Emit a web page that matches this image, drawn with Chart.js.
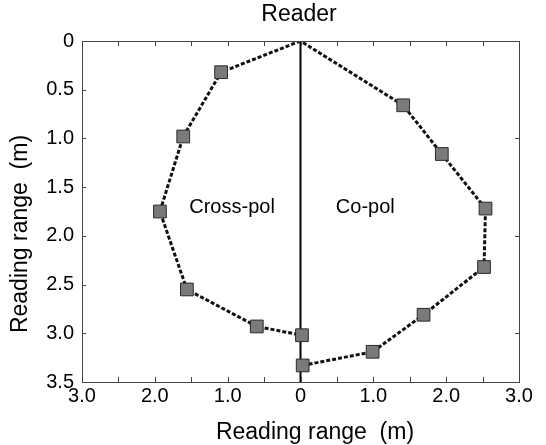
<!DOCTYPE html>
<html>
<head>
<meta charset="utf-8">
<title>Reading range</title>
<script src="https://cdn.jsdelivr.net/npm/chart.js@4.4.1/dist/chart.umd.min.js"></script>
<style>
    html, body { margin: 0; padding: 0; background: #fff; }
    #wrap { width: 546px; height: 445px; }
</style>
</head>
<body>
<div id="wrap"><canvas id="chart" width="546" height="445"></canvas></div>
<script>
// Measured read range (m), left half = cross-pol, right half = co-pol
const crossX = [0, -1.09, -1.61, -1.93, -1.56, -0.60, 0.02];
const crossY = [0, 0.32, 0.98, 1.75, 2.55, 2.93, 3.02];
const coX = [0.03, 0.99, 1.69, 2.52, 2.54, 1.94, 1.41, 0];
const coY = [3.33, 3.19, 2.81, 2.32, 1.72, 1.16, 0.66, 0];

// Reader axis (vertical line through x = 0)
const axisLineX = [0, 0];
const axisLineY = [0, 3.5];

// Tick labels
const xTickValues = [-3, -2, -1, 0, 1, 2, 3];
const xTickLabels = ['3.0', '2.0', '1.0', '0', '1.0', '2.0', '3.0'];
const yTickValues = [0, 0.5, 1, 1.5, 2, 2.5, 3, 3.5];
const yTickLabels = ['0', '0.5', '1.0', '1.5', '2.0', '2.5', '3.0', '3.5'];

// Region labels
const regionNames = ['Cross-pol', 'Co-pol'];
const regionX = [-0.94, 0.89];
const regionY = [1.71, 1.71];

const FONT = '"Liberation Sans", Arial, sans-serif';
const FRAME = '#444';

const toPoints = (xs, ys) => xs.map((x, i) => ({ x: x, y: ys[i] }));

// hide the marker on the shared origin point (reader position)
const markerRadius = (ctx) => {
    const p = ctx.raw;
    return p && p.x === 0 && p.y === 0 ? 0 : 9;
};

// frame, inward ticks, free text
const decor = {
    id: 'decor',
    afterDraw(chart) {
        const { ctx, chartArea: a, scales } = chart;
        const sx = scales.x, sy = scales.y;
        ctx.save();
        ctx.strokeStyle = FRAME;
        ctx.lineWidth = 1;
        ctx.strokeRect(Math.round(a.left) + 0.5, Math.round(a.top) + 0.5,
            Math.round(a.right - a.left), Math.round(a.bottom - a.top));

        ctx.beginPath();
        for (let v = -3; v <= 3.0001; v += 0.5) {
            const px = Math.round(sx.getPixelForValue(v)) + 0.5;
            ctx.moveTo(px, a.top); ctx.lineTo(px, a.top + 5);
            ctx.moveTo(px, a.bottom); ctx.lineTo(px, a.bottom - 5);
        }
        for (let v = 0; v <= 3.5001; v += 0.5) {
            const py = Math.round(sy.getPixelForValue(v)) + 0.5;
            ctx.moveTo(a.left, py); ctx.lineTo(a.left + 4, py);
            if (Number.isInteger(v)) {
                ctx.moveTo(a.right, py); ctx.lineTo(a.right - 4, py);
            }
        }
        ctx.stroke();

        ctx.fillStyle = '#000';
        ctx.textAlign = 'center';
        ctx.textBaseline = 'middle';
        ctx.font = '20px ' + FONT;
        regionNames.forEach((name, i) => {
            ctx.fillText(name, sx.getPixelForValue(regionX[i]), sy.getPixelForValue(regionY[i]));
        });

        ctx.font = '23px ' + FONT;
        ctx.fillText('Reader', 299, 15);
        ctx.fillText('Reading range  (m)', 315, 433);
        ctx.translate(21, 234);
        ctx.rotate(-Math.PI / 2);
        ctx.fillText('Reading range  (m)', 0, 0);
        ctx.restore();
    }
};

const pointStyleCommon = {
    showLine: true,
    borderColor: '#111',
    borderWidth: 3,
    borderDash: [4, 2],
    pointStyle: 'rect',
    pointRadius: markerRadius,
    pointBackgroundColor: '#7a7a7a',
    pointBorderColor: '#2a2a2a',
    pointBorderWidth: 1,
    tension: 0,
    fill: false,
};

new Chart(document.getElementById('chart'), {
    type: 'scatter',
    data: {
        datasets: [
            Object.assign({ label: 'Cross-pol', data: toPoints(crossX, crossY) }, pointStyleCommon),
            Object.assign({ label: 'Co-pol', data: toPoints(coX, coY) }, pointStyleCommon),
            {
                label: 'Reader axis',
                data: toPoints(axisLineX, axisLineY),
                showLine: true,
                borderColor: '#000',
                borderWidth: 2,
                pointRadius: 0,
            },
        ],
    },
    options: {
        responsive: false,
        animation: false,
        layout: { padding: { top: 41, right: 27, left: 0, bottom: 0 } },
        plugins: {
            legend: { display: false },
            tooltip: { enabled: false },
        },
        scales: {
            x: {
                type: 'linear',
                min: -3,
                max: 3,
                afterFit: (s) => { s.height = 63; },
                afterBuildTicks: (s) => { s.ticks = xTickValues.map((v) => ({ value: v })); },
                grid: { display: false, drawTicks: false },
                border: { display: false },
                ticks: {
                    autoSkip: false,
                    maxRotation: 0,
                    padding: 2,
                    color: '#000',
                    font: { family: FONT, size: 20 },
                    callback: (v) => xTickLabels[xTickValues.indexOf(v)],
                },
            },
            y: {
                type: 'linear',
                reverse: true,
                min: 0,
                max: 3.5,
                afterFit: (s) => { s.width = 82; },
                afterBuildTicks: (s) => { s.ticks = yTickValues.map((v) => ({ value: v })); },
                grid: { display: false, drawTicks: false },
                border: { display: false },
                ticks: {
                    autoSkip: false,
                    padding: 8,
                    color: '#000',
                    font: { family: FONT, size: 20 },
                    callback: (v) => yTickLabels[yTickValues.indexOf(v)],
                },
            },
        },
    },
    plugins: [decor],
});
</script>
</body>
</html>
